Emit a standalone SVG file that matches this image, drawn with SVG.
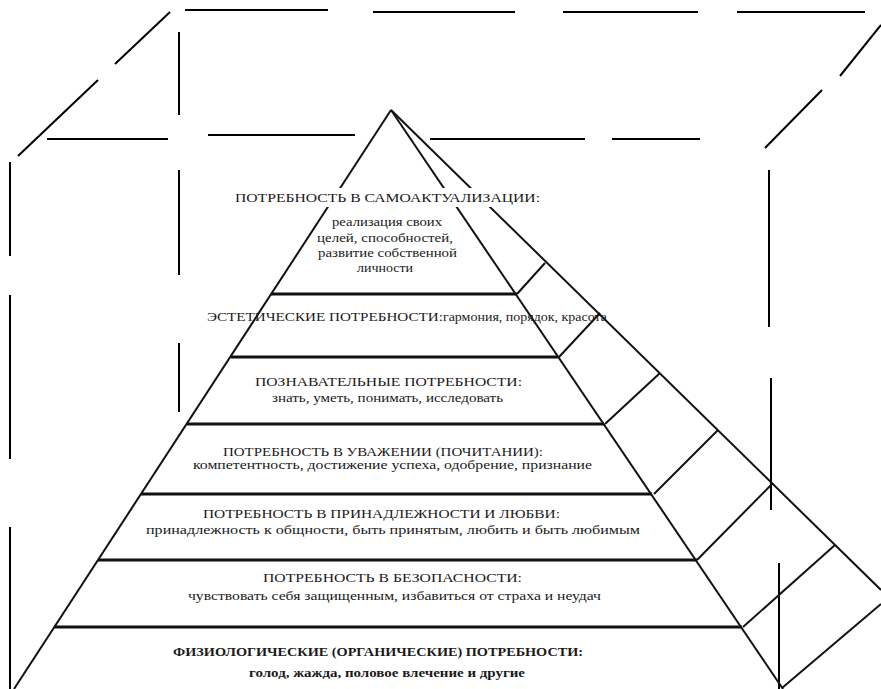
<svg xmlns="http://www.w3.org/2000/svg" width="881" height="689" viewBox="0 0 881 689">
<style>
.cube{stroke:#000;stroke-width:2;fill:none;stroke-linecap:butt}
.edge{stroke:#111;stroke-width:2;fill:none}
.lvl{stroke:#111;stroke-width:3;fill:none}
.t{font-family:"Liberation Serif","Times New Roman",serif;font-size:13px;fill:#1a1a1a}
.s{font-family:"Liberation Serif","Times New Roman",serif;font-size:12px;fill:#1a1a1a}
.b{font-weight:bold}
</style>
<rect width="881" height="689" fill="#fff"/>
<g id="cube">
  <line class="cube" x1="185" y1="10" x2="328" y2="10"/>
  <line class="cube" x1="373" y1="12" x2="515" y2="12"/>
  <line class="cube" x1="563" y1="12" x2="698" y2="12"/>
  <line class="cube" x1="737" y1="12" x2="865" y2="12"/>
  <line class="cube" x1="170" y1="12" x2="115" y2="64"/>
  <line class="cube" x1="98" y1="80" x2="18" y2="156"/>
  <line class="cube" x1="47" y1="139" x2="168" y2="139"/>
  <line class="cube" x1="208" y1="135" x2="355" y2="135"/>
  <line class="cube" x1="430" y1="139" x2="585" y2="139"/>
  <line class="cube" x1="612" y1="139" x2="700" y2="139"/>
  <line class="cube" x1="881" y1="25" x2="840" y2="76"/>
  <line class="cube" x1="822" y1="90" x2="765" y2="148"/>
  <line class="cube" x1="10" y1="162" x2="10" y2="256"/>
  <line class="cube" x1="10" y1="295" x2="10" y2="459"/>
  <line class="cube" x1="10" y1="527" x2="10" y2="689"/>
  <line class="cube" x1="179" y1="32" x2="179" y2="115"/>
  <line class="cube" x1="179" y1="170" x2="179" y2="275"/>
  <line class="cube" x1="179" y1="343" x2="179" y2="412"/>
  <line class="cube" x1="769" y1="170" x2="769" y2="327"/>
  <line class="cube" x1="771" y1="378" x2="771" y2="510"/>
  <line class="cube" x1="779" y1="563" x2="779" y2="689"/>
</g>
<g id="pyramid-frame">
  <line class="edge" x1="391" y1="110" x2="14" y2="689"/>
  <line class="edge" x1="391" y1="110" x2="783" y2="689"/>
  <line class="edge" x1="391" y1="110" x2="881" y2="590"/>
  <line class="edge" x1="517" y1="294" x2="545" y2="263"/>
  <line class="edge" x1="559" y1="357" x2="600" y2="313"/>
  <line class="edge" x1="605" y1="424" x2="660" y2="373"/>
  <line class="edge" x1="654" y1="494" x2="718" y2="430"/>
  <line class="edge" x1="697" y1="560" x2="773" y2="483"/>
  <line class="edge" x1="743" y1="627" x2="835" y2="545"/>
  <line class="edge" x1="782" y1="688" x2="881" y2="604"/>
</g>
<g id="level-lines">
  <line class="lvl" x1="271" y1="294" x2="517" y2="294"/>
  <line class="lvl" x1="231" y1="357" x2="558" y2="357"/>
  <line class="lvl" x1="187" y1="424" x2="604" y2="424"/>
  <line class="lvl" x1="141" y1="494" x2="652" y2="494"/>
  <line class="lvl" x1="98" y1="560" x2="697" y2="560"/>
  <line class="lvl" x1="54" y1="627" x2="742" y2="627"/>
</g>
<g id="level1">
  <rect x="234" y="188" width="308" height="19" fill="#fff"/>
  <text class="t" x="235" y="202" textLength="305" lengthAdjust="spacingAndGlyphs">ПОТРЕБНОСТЬ В САМОАКТУАЛИЗАЦИИ:</text>
  <text class="s" x="332" y="226" textLength="110" lengthAdjust="spacingAndGlyphs">реализация своих</text>
  <text class="s" x="317" y="242" textLength="136" lengthAdjust="spacingAndGlyphs">целей, способностей,</text>
  <text class="s" x="318" y="257" textLength="139" lengthAdjust="spacingAndGlyphs">развитие собственной</text>
  <text class="s" x="357" y="272" textLength="56" lengthAdjust="spacingAndGlyphs">личности</text>
</g>
<g id="level2">
  <text class="t" x="207" y="321" textLength="400" lengthAdjust="spacingAndGlyphs">ЭСТЕТИЧЕСКИЕ ПОТРЕБНОСТИ:<tspan class="s">гармония, порядок, красота</tspan></text>
</g>
<g id="level3">
  <text class="t" x="255" y="386" textLength="267" lengthAdjust="spacingAndGlyphs">ПОЗНАВАТЕЛЬНЫЕ ПОТРЕБНОСТИ:</text>
  <text class="s" x="272" y="402" textLength="231" lengthAdjust="spacingAndGlyphs">знать, уметь, понимать, исследовать</text>
</g>
<g id="level4">
  <text class="t" x="223" y="456" textLength="320" lengthAdjust="spacingAndGlyphs">ПОТРЕБНОСТЬ В УВАЖЕНИИ (ПОЧИТАНИИ):</text>
  <text class="s" x="193" y="469" textLength="399" lengthAdjust="spacingAndGlyphs">компетентность, достижение успеха, одобрение, признание</text>
</g>
<g id="level5">
  <text class="t" x="203" y="518" textLength="357" lengthAdjust="spacingAndGlyphs">ПОТРЕБНОСТЬ В ПРИНАДЛЕЖНОСТИ И ЛЮБВИ:</text>
  <text class="s" x="146" y="534" textLength="494" lengthAdjust="spacingAndGlyphs">принадлежность к общности, быть принятым, любить и быть любимым</text>
</g>
<g id="level6">
  <text class="t" x="263" y="582" textLength="259" lengthAdjust="spacingAndGlyphs">ПОТРЕБНОСТЬ В БЕЗОПАСНОСТИ:</text>
  <text class="s" x="188" y="600" textLength="413" lengthAdjust="spacingAndGlyphs">чувствовать себя защищенным, избавиться от страха и неудач</text>
</g>
<g id="level7">
  <text class="t b" x="173" y="656" textLength="410" lengthAdjust="spacingAndGlyphs">ФИЗИОЛОГИЧЕСКИЕ (ОРГАНИЧЕСКИЕ) ПОТРЕБНОСТИ:</text>
  <text class="s b" x="249" y="677" textLength="276" lengthAdjust="spacingAndGlyphs">голод, жажда, половое влечение и другие</text>
</g>
</svg>
